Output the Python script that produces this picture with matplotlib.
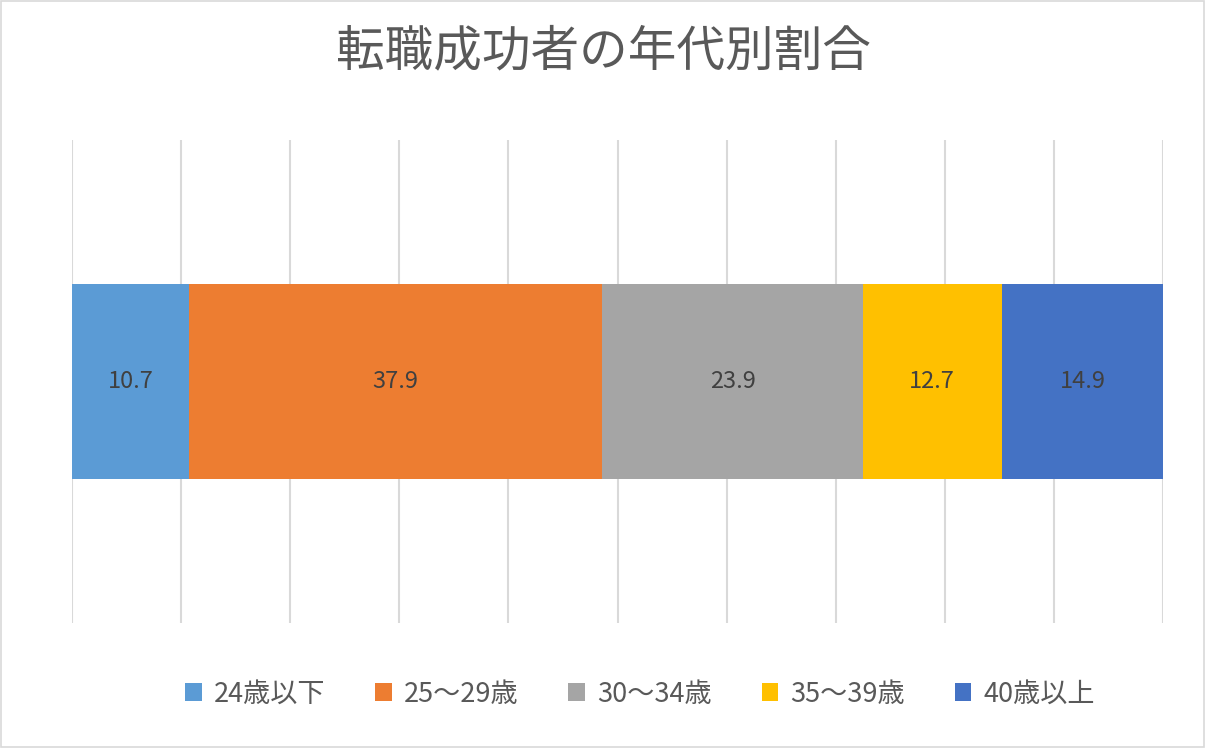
import matplotlib
matplotlib.use("Agg")
import matplotlib.pyplot as plt
from matplotlib.patches import Patch, Rectangle

plt.rcParams['font.family'] = ['Noto Sans CJK JP', 'DejaVu Sans']

# =========== Data ===========
title = "転職成功者の年代別割合"
age_groups = ["24歳以下", "25〜29歳", "30〜34歳", "35〜39歳", "40歳以上"]
shares = [10.7, 37.9, 23.9, 12.7, 14.9]
colors = ["#5B9BD5", "#ED7D31", "#A5A5A5", "#FFC000", "#4472C4"]

# =========== Figure ===========
fig = plt.figure(figsize=(12.06, 7.48), dpi=100)
ax = fig.add_axes([72 / 1206, 125 / 748, 1091 / 1206, 483 / 748])

left = 0
for name, val, col in zip(age_groups, shares, colors):
    ax.barh(0, val, left=left, height=0.402, color=col, label=name, zorder=2)
    ax.text(left + val / 2, 0, f"{val:.1f}", ha="center", va="center",
            fontsize=17, color="#404040", zorder=3)
    left += val

ax.set_xlim(0, 100)
ax.set_ylim(-0.5, 0.5)
ax.set_xticks(range(0, 101, 10))
ax.set_xticklabels([])
ax.set_yticks([])
ax.tick_params(axis="x", length=0)
ax.grid(axis="x", color="#D9D9D9", linewidth=1.5, zorder=0)
for s in ax.spines.values():
    s.set_visible(False)

fig.text(0.5, 1 - 52 / 748, title, ha="center", va="center",
         fontsize=35, color="#595959")

handles = [Patch(facecolor=c, edgecolor="none") for c in colors]
fig.legend(handles, age_groups, loc="center", bbox_to_anchor=(640 / 1206, 1 - 694 / 748),
           ncol=5, frameon=False, fontsize=19.5, labelcolor="#595959",
           handlelength=0.6, handleheight=0.6, handletextpad=0.45, columnspacing=1.85)

# figure border
fig.patches.append(Rectangle((0.001, 0.001), 0.997, 0.997, transform=fig.transFigure,
                             fill=False, edgecolor="#D9D9D9", linewidth=1.2))

fig.savefig("out.png", dpi=100, facecolor="white")
